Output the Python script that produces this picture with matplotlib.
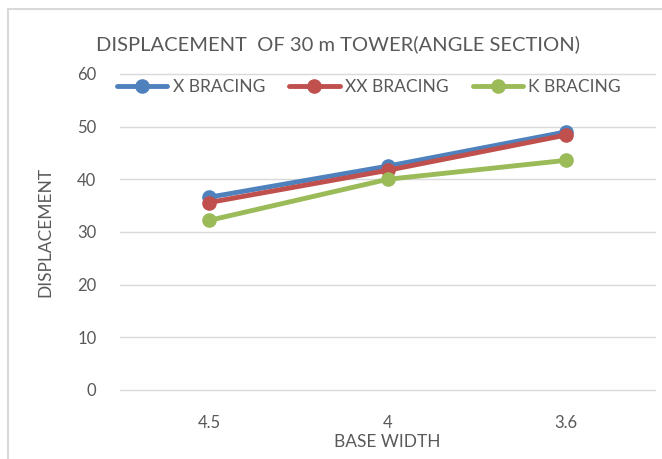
import matplotlib
matplotlib.use("Agg")
import matplotlib.pyplot as plt
from matplotlib.patches import Rectangle

categories = ["4.5", "4", "3.6"]
x_bracing = [36.6, 42.5, 49.0]
xx_bracing = [35.6, 41.7, 48.4]
k_bracing = [32.2, 40.0, 43.6]
series_names = ["X BRACING", "XX BRACING", "K BRACING"]
colors = ["#4F81BD", "#C0504D", "#9BBB59"]
yticks = [0, 10, 20, 30, 40, 50, 60]

plt.rcParams["font.family"] = ["Lato", "DejaVu Sans"]
text_color = "#595959"

fig = plt.figure(figsize=(6.62, 4.59), dpi=100)
fig.patch.set_facecolor("white")

# chart-area frame (partially cropped on right/bottom)
fig.patches.append(Rectangle((8 / 662, -0.05), 1.2, 1 - 9 / 459 + 0.05,
                             transform=fig.transFigure, fill=False,
                             edgecolor="#D9D9D9", linewidth=1.5))

ax = fig.add_axes([120 / 662, 1 - 390 / 459, 535 / 662, 316 / 459])
xs = range(len(categories))
for vals, name, c in zip([x_bracing, xx_bracing, k_bracing], series_names, colors):
    ax.plot(xs, vals, color=c, linewidth=3.5, marker="o", markersize=9.5,
            label=name, solid_capstyle="round")

ax.set_xlim(-0.5, 2.5)
ax.set_ylim(0, 60)
ax.set_yticks(yticks)
ax.set_xticks(list(xs))
ax.set_xticklabels(categories)
ax.grid(axis="y", color="#D9D9D9", linewidth=1)
for gl in ax.get_ygridlines():
    gl.set_clip_on(False)
ax.set_axisbelow(True)
for s in ax.spines.values():
    s.set_visible(False)
ax.tick_params(length=0, colors=text_color, labelsize=12)
ax.tick_params(axis="y", pad=17)
ax.tick_params(axis="x", pad=18)

ax.set_xlabel("BASE WIDTH", color=text_color, fontsize=12.5, labelpad=2)
ax.set_ylabel("DISPLACEMENT", color=text_color, fontsize=12.5, labelpad=17)

fig.text(338 / 662, 1 - 44 / 459, "DISPLACEMENT  OF 30 m TOWER(ANGLE SECTION)",
         ha="center", va="center", color=text_color, fontsize=14.5)

fig.legend(loc="center", bbox_to_anchor=(369 / 662, 1 - 87 / 459), ncol=3,
           frameon=False, fontsize=12.5, labelcolor=text_color,
           handlelength=2.9, handletextpad=0.3, columnspacing=1.4)

fig.savefig("out.png", dpi=100, facecolor="white")
